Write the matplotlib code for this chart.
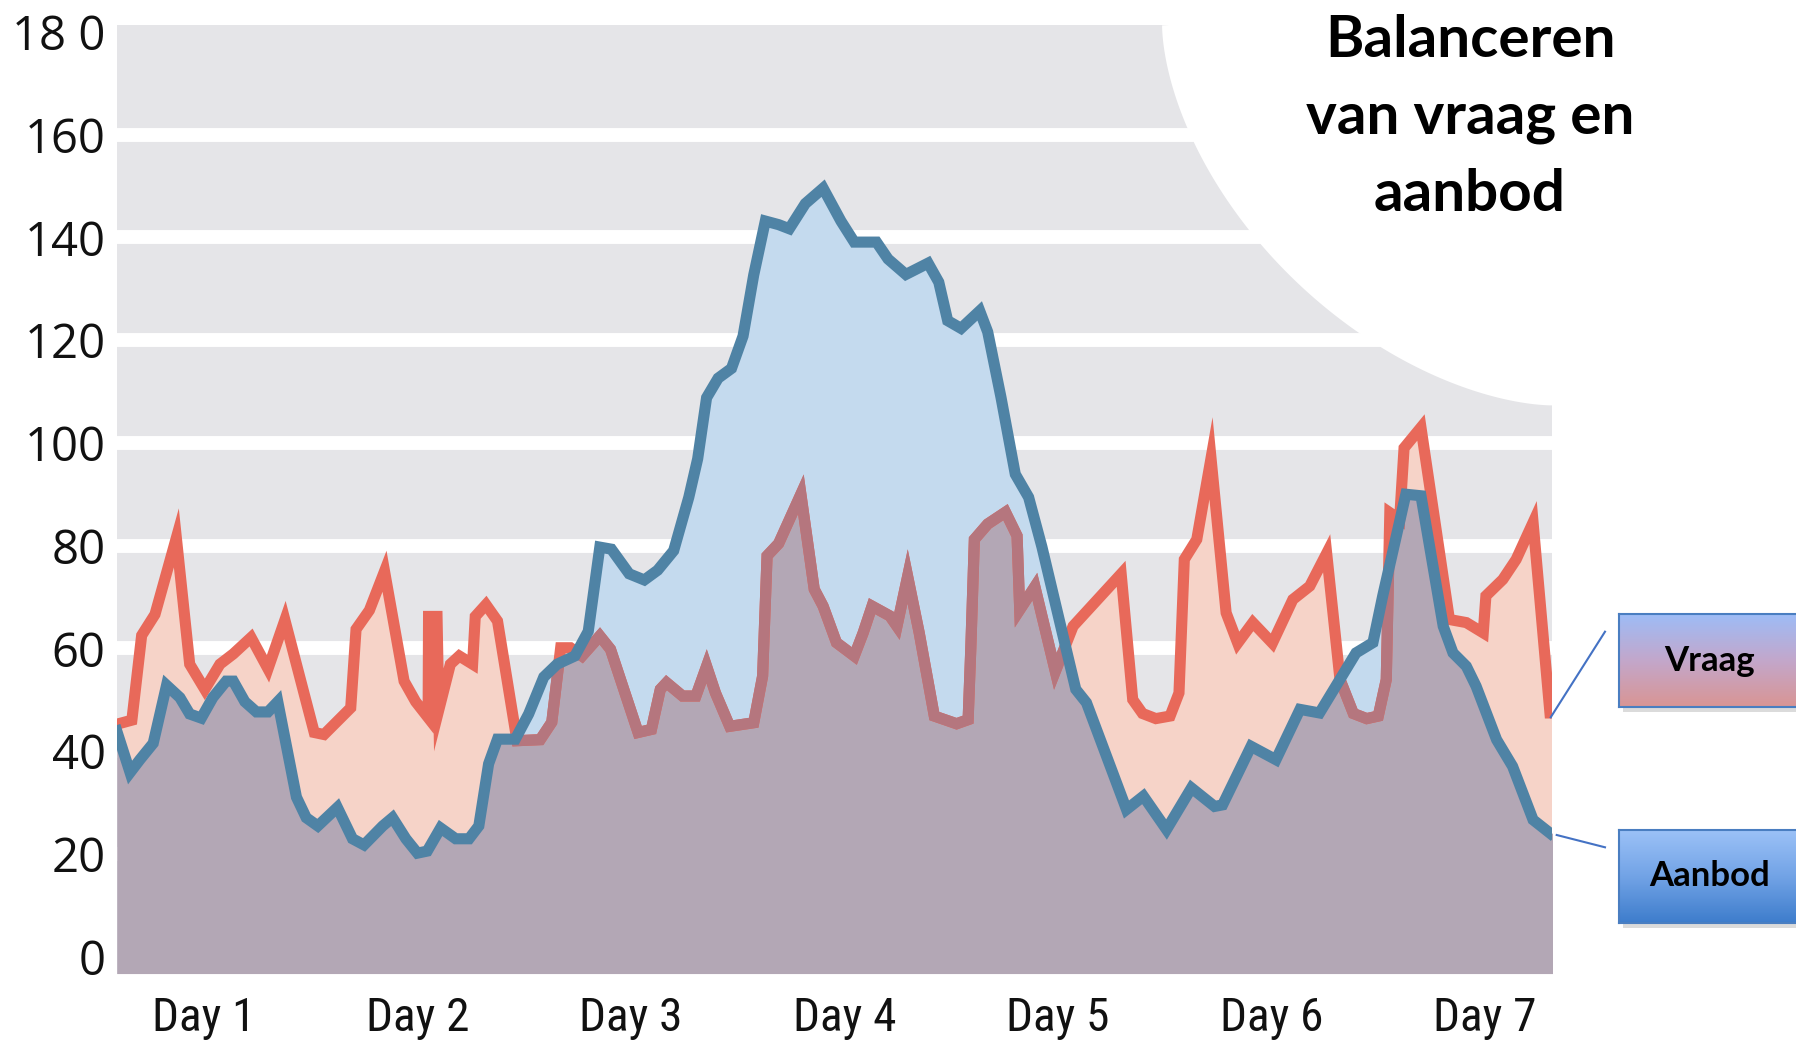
import numpy as np
import matplotlib
matplotlib.use('Agg')
import matplotlib.pyplot as plt
from matplotlib.patches import Polygon, Rectangle
from matplotlib.lines import Line2D
from matplotlib.colors import LinearSegmentedColormap

# uren sinds begin van dag 1
vraag_uur = [2.2, 3.9, 5.0, 6.5, 8.9, 10.4, 12.1, 13.8, 15.3, 17.3, 19.2, 21.1,
             24.4, 25.5, 28.5, 29.1, 30.6, 32.3, 34.5, 35.8, 37.2, 37.25, 38.2, 38.4,
             39.7, 40.7, 42.2, 42.5, 43.7, 45.0, 47.0, 47.2, 49.8, 51.1, 52.1, 53.2,
             54.5, 56.5, 57.7, 60.8, 62.3, 63.3, 64.0, 65.8, 67.3, 68.5, 69.5, 71.1,
             73.8, 74.8, 75.3, 76.6, 79.1, 80.6, 81.6, 83.1, 85.1, 86.1, 87.1, 89.1,
             89.9, 91.1, 92.4, 94.1, 96.6, 97.9, 98.2, 98.6, 100.1, 102.1, 103.4, 103.7,
             105.4, 107.7, 109.7, 115.1, 116.4, 117.5, 119.0, 120.6, 121.6, 122.2, 123.6, 125.2,
             126.9, 128.2, 129.9, 132.1, 134.4, 136.3, 138.2, 139.7, 141.2, 142.7, 144.0, 144.9,
             145.3, 146.4, 146.9, 148.8, 152.0, 153.9, 155.8, 156.1, 158.0, 159.5, 161.4, 163.3,
             163.6]
vraag = [45.2, 46.0, 62.5, 66.6, 81.5, 56.9, 52.0, 56.9, 58.9, 62.1, 56.0, 65.5,
         43.6, 43.2, 48.4, 63.7, 67.4, 75.0, 53.6, 49.6, 46.5, 66.2, 66.2, 48.0,
         56.9, 58.5, 56.9, 66.2, 68.5, 65.3, 44.0, 42.0, 42.2, 45.6, 60.1, 60.1,
         58.5, 62.4, 59.8, 43.6, 44.2, 52.0, 53.3, 50.7, 50.7, 56.5, 51.3, 44.8,
         45.5, 54.6, 78.0, 80.4, 90.0, 71.5, 68.2, 61.1, 58.5, 63.0, 68.2, 66.3,
         64.3, 74.0, 63.0, 46.8, 45.3, 46.1, 60.0, 81.2, 84.2, 86.5, 81.9, 67.5,
         72.0, 55.5, 64.3, 74.5, 50.0, 47.3, 46.3, 46.8, 51.3, 77.3, 81.2, 97.0,
         66.9, 61.0, 65.0, 61.0, 69.5, 72.1, 78.5, 53.9, 47.3, 46.3, 46.8, 53.9,
         86.4, 85.1, 99.0, 103.0, 65.6, 65.0, 63.0, 70.2, 73.4, 77.3, 84.5, 47.4,
         47.4]

aanbod_uur = [2.2, 3.7, 4.8, 6.3, 7.8, 9.3, 10.4, 11.7, 13.0, 14.5, 15.3, 16.6,
              17.9, 19.2, 20.3, 22.4, 23.5, 24.8, 27.0, 28.7, 30.0, 32.1, 33.2, 34.7,
              36.0, 37.1, 38.6, 40.3, 41.8, 42.9, 44.0, 45.0, 47.0, 48.5, 50.2, 51.7,
              53.7, 55.2, 56.5, 57.8, 59.8, 61.5, 63.0, 64.8, 66.5, 67.5, 68.5, 69.8,
              71.3, 72.6, 73.8, 75.1, 76.6, 77.8, 79.6, 81.6, 83.6, 85.1, 87.6, 88.9,
              90.9, 93.4, 94.6, 95.6, 97.1, 99.2, 100.1, 101.6, 103.2, 104.7, 106.2, 109.2,
              110.0, 111.2, 115.7, 117.6, 120.2, 123.0, 125.6, 126.5, 129.7, 132.5, 135.2, 137.4,
              141.5, 143.4, 144.5, 147.1, 148.8, 151.3, 152.4, 153.9, 155.0, 157.3, 159.1, 161.4,
              163.3]
aanbod = [43.9, 35.8, 38.3, 41.5, 52.8, 50.4, 47.2, 46.4, 50.4, 53.6, 53.6, 49.6,
          47.6, 47.6, 49.6, 31.0, 27.0, 25.4, 29.0, 22.9, 21.7, 25.4, 27.0, 22.9,
          20.1, 20.5, 25.0, 22.9, 22.9, 25.4, 37.5, 42.3, 42.3, 47.2, 54.4, 56.9,
          58.5, 63.3, 79.7, 79.3, 74.5, 73.3, 75.2, 79.0, 89.4, 96.9, 108.8, 112.6,
          114.5, 120.8, 132.7, 143.2, 142.5, 141.7, 146.6, 149.6, 143.2, 139.1, 139.1, 135.8,
          132.8, 135.0, 131.3, 123.8, 122.3, 125.7, 121.6, 108.8, 93.9, 89.4, 79.7, 57.8,
          52.0, 49.4, 28.6, 31.2, 24.7, 32.8, 29.2, 29.5, 40.9, 38.3, 48.1, 47.4,
          59.1, 61.1, 70.2, 90.0, 89.7, 64.3, 59.1, 56.5, 52.6, 42.2, 37.0, 26.6,
          24.0]

dag_pos = [12, 36, 60, 84, 108, 132, 156]
dag_labels = ['Day 1', 'Day 2', 'Day 3', 'Day 4', 'Day 5', 'Day 6', 'Day 7']
y_ticks = [0, 20, 40, 60, 80, 100, 120, 140, 160, 180]
y_labels = ['0', '20', '40', '60', '80', '100', '120', '140', '160', '18 0']

titel = 'Balanceren\nvan vraag en\naanbod'
legenda = ['Vraag', 'Aanbod']

# kleuren
grijs = '#E5E5E8'
paars = '#B3A7B5'
zalm = '#F6D3C8'
lichtblauw = '#C4DAEE'
rood = '#E8695A'
bruin = '#B5767E'
blauw = '#4F83A5'

fig = plt.figure(figsize=(17.96, 10.5), dpi=100)
ax = fig.add_axes([0.065, 0.0728, 0.799, 0.903])
xmin, xmax = 2.2, 163.5
ymin, ymax = -3.35, 181.3
ax.set_xlim(xmin, xmax)
ax.set_ylim(ymin, ymax)
ax.set_facecolor(grijs)

for t in y_ticks[1:-1]:
    ax.axhline(t, color='white', lw=10, zorder=0.5)

# witte boog rechtsboven
t = np.linspace(0, np.pi / 2, 200)
p = 1.7
bx = xmax - (xmax - 119.7) * np.cos(t) ** (2 / p)
by = ymax - (ymax - 107.3) * np.sin(t) ** (2 / p)
boog = np.column_stack([np.r_[bx, xmax + 5, xmax + 5], np.r_[by, by[-1], ymax + 5]])
ax.add_patch(Polygon(boog, closed=True, facecolor='white', edgecolor='none', zorder=0.6))

# vlakken
x = np.union1d(vraag_uur, aanbod_uur)
v = np.interp(x, vraag_uur, vraag)
a = np.interp(x, aanbod_uur, aanbod)
ax.fill_between(x, ymin, np.minimum(v, a), color=paars, lw=0, zorder=1)
ax.fill_between(x, a, v, where=v >= a, interpolate=True, color=zalm, lw=0, zorder=1)
ax.fill_between(x, v, a, where=a > v, interpolate=True, color=lichtblauw, lw=0, zorder=1)

# lijnen
ax.plot(vraag_uur, vraag, color=rood, lw=8, solid_joinstyle='miter', zorder=3)
onder = ax.plot(vraag_uur, vraag, color=bruin, lw=8, solid_joinstyle='miter', zorder=3.5)[0]
clip = Polygon(np.column_stack([np.r_[aanbod_uur, aanbod_uur[-1], aanbod_uur[0]],
                                np.r_[aanbod, ymin, ymin]]),
               closed=True, transform=ax.transData)
onder.set_clip_path(clip)
ax.plot(aanbod_uur, aanbod, color=blauw, lw=8, solid_joinstyle='miter', zorder=4)

for s in ax.spines.values():
    s.set_visible(False)
ax.set_yticks(y_ticks, y_labels, fontsize=34, family=['Open Sans', 'DejaVu Sans'], color='#111111')
ax.set_xticks(dag_pos, dag_labels, fontsize=34, fontstretch='condensed', fontweight='normal',
              family=['Roboto Condensed', 'Liberation Sans Narrow', 'Roboto'], color='#111111')
ax.tick_params(axis='y', length=0, pad=8)
ax.tick_params(axis='x', length=0, pad=16)

fig.text(0.8185, 0.987, titel, ha='center', va='top', fontsize=42, fontweight='bold',
         family=['Lato', 'DejaVu Sans'], linespacing=1.56)

# legenda-blokken
kaarten = [
    (0.3267, LinearSegmentedColormap.from_list('vr', ['#9EBCF6', '#C3A7CB', '#D99594'])),
    (0.1210, LinearSegmentedColormap.from_list('aa', ['#9BC1F7', '#72A3E6', '#3E7DCC'])),
]
for (y0, cmap), naam in zip(kaarten, legenda):
    fig.add_artist(Rectangle((0.9035, y0 - 0.005), 0.11, 0.0885, transform=fig.transFigure,
                             facecolor='#999999', alpha=0.35, edgecolor='none', zorder=-1))
    bax = fig.add_axes([0.9015, y0, 0.11, 0.0885])
    bax.imshow(np.linspace(0, 1, 100).reshape(-1, 1), aspect='auto', cmap=cmap,
               extent=[0, 1, 0, 1])
    bax.set_xticks([])
    bax.set_yticks([])
    for s in bax.spines.values():
        s.set_color('#4A7EC1')
        s.set_linewidth(1.5)
    bax.text(0.46, 0.5, naam, ha='center', va='center', fontsize=25, fontweight='bold',
             family=['Lato', 'DejaVu Sans'], transform=bax.transAxes)

# verbindingslijnen
for (x1, y1), (x2, y2) in [((1550.7, 717.3), (1605, 631.7)), ((1556.7, 835), (1605, 847.3))]:
    fig.add_artist(Line2D([x1 / 1796, x2 / 1796], [1 - y1 / 1050, 1 - y2 / 1050],
                          transform=fig.transFigure, color='#4472C4', lw=1.5))

fig.savefig('out.png', dpi=100)
